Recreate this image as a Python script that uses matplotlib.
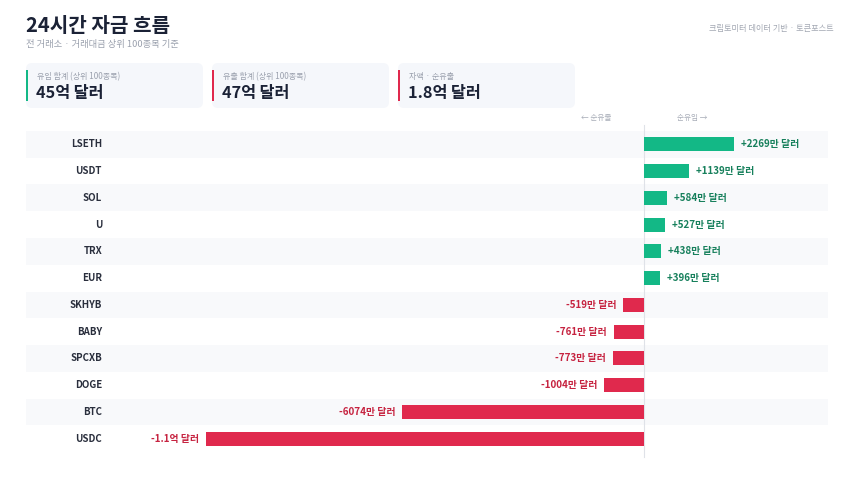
import matplotlib
matplotlib.use("Agg")
import matplotlib.pyplot as plt
from matplotlib.patches import FancyBboxPatch, Rectangle
import matplotlib.transforms as mtransforms

plt.rcParams['font.family'] = ['Noto Sans CJK KR', 'DejaVu Sans']

# data (단위: 만 달러)
tickers = ['LSETH', 'USDT', 'SOL', 'U', 'TRX', 'EUR',
           'SKHYB', 'BABY', 'SPCXB', 'DOGE', 'BTC', 'USDC']
flows = [2269, 1139, 584, 527, 438, 396,
         -519, -761, -773, -1004, -6074, -11000]
flow_labels = ['+2269만 달러', '+1139만 달러', '+584만 달러', '+527만 달러',
               '+438만 달러', '+396만 달러', '-519만 달러', '-761만 달러',
               '-773만 달러', '-1004만 달러', '-6074만 달러', '-1.1억 달러']

card_titles = ['유입 합계 (상위 100종목)', '유출 합계 (상위 100종목)', '차액 · 순유출']
card_values = ['45억 달러', '47억 달러', '1.8억 달러']
card_accents = ['#13b886', '#e0294d', '#e0294d']

GREEN = '#13b886'
RED = '#e0294d'
GREEN_TXT = '#17805c'
RED_TXT = '#c62340'
DARK = '#1b2236'
GRAY = '#9aa0ad'

W, H = 860, 483
fig = plt.figure(figsize=(W / 100, H / 100), dpi=100)
fig.patch.set_facecolor('white')

# pixel-space layer for header and cards
bg = fig.add_axes([0, 0, 1, 1])
bg.set_xlim(0, W)
bg.set_ylim(H, 0)
bg.axis('off')

bg.text(26, 25, '24시간 자금 흐름', fontsize=14.5, fontweight='bold',
        color=DARK, va='center', ha='left')
bg.text(26, 45, '전 거래소 · 거래대금 상위 100종목 기준', fontsize=6.7,
        color=GRAY, va='center', ha='left')
bg.text(834, 29, '크립토미터 데이터 기반 · 토큰포스트', fontsize=5.9,
        color='#a3a8b3', va='center', ha='right')

for i, (t, v, c) in enumerate(zip(card_titles, card_values, card_accents)):
    x0 = 26 + i * 186
    bg.add_patch(FancyBboxPatch((x0, 63), 177, 45,
                                boxstyle='round,pad=0,rounding_size=6',
                                facecolor='#f5f7fb', edgecolor='none'))
    bg.add_patch(Rectangle((x0, 70), 2.2, 31, facecolor=c, edgecolor='none'))
    bg.text(x0 + 11, 77, t, fontsize=5.8, color=GRAY, va='center', ha='left')
    bg.text(x0 + 10, 93, v, fontsize=11.7, fontweight='bold', color=DARK,
            va='center', ha='left')

bg.text(611, 118, '← 순유출', fontsize=5.5, color='#a8adb8',
        va='center', ha='right')
bg.text(677, 118, '순유입 →', fontsize=5.5, color='#a8adb8',
        va='center', ha='left')

# chart
left, right, top, bottom = 26, 828, 131, 452
ax = fig.add_axes([left / W, 1 - bottom / H, (right - left) / W, (bottom - top) / H])
ax.set_facecolor('none')
rows = list(range(len(tickers)))
ax.set_ylim(len(tickers) - 0.5, -0.5)
ax.set_xlim(-15527, 4623)

for r in rows:
    if r % 2 == 0:
        ax.axhspan(r - 0.5, r + 0.5, color='#f8f9fb', zorder=0, lw=0)

ax.axvline(0, ymin=-0.015, ymax=1.02, color='#dfe2e8', lw=0.8, zorder=1,
           clip_on=False)

colors = [GREEN if v >= 0 else RED for v in flows]
ax.barh(rows, flows, height=0.52, color=colors, zorder=2)

trans = mtransforms.blended_transform_factory(ax.transAxes, ax.transData)
for r, name, v, lab in zip(rows, tickers, flows, flow_labels):
    ax.text((102 - left) / (right - left), r, name, transform=trans,
            ha='right', va='center', fontsize=7, fontweight='bold',
            color='#2a2f3d')
    if v >= 0:
        ax.annotate(lab, (v, r), xytext=(5, 0), textcoords='offset points',
                    ha='left', va='center', fontsize=7.1, fontweight='bold',
                    color=GREEN_TXT)
    else:
        ax.annotate(lab, (v, r), xytext=(-5, 0), textcoords='offset points',
                    ha='right', va='center', fontsize=7.1, fontweight='bold',
                    color=RED_TXT)

ax.axis('off')

fig.savefig('out.png', dpi=100, facecolor='white')
